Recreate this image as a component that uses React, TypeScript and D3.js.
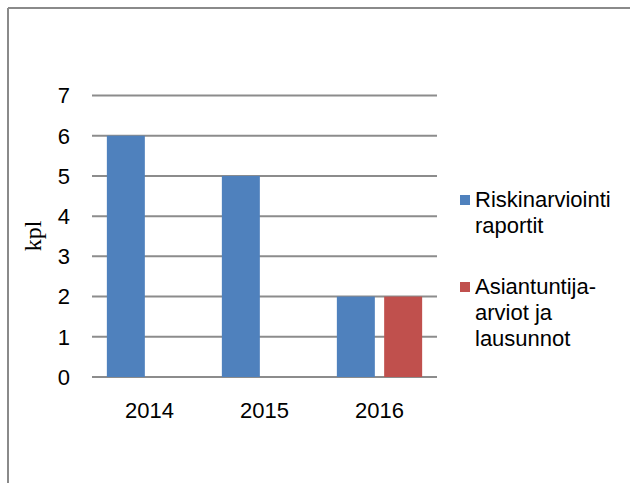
import React from "react";
import * as d3 from "d3";

const categories = ["2014", "2015", "2016"];
const seriesNames = ["Riskinarviointi raportit", "Asiantuntija-arviot ja lausunnot"];
const riskinarviointi = [6, 5, 2];
const asiantuntija = [0, 0, 2];
const yTicks = [0, 1, 2, 3, 4, 5, 6, 7];
const legendLines = [["Riskinarviointi", "raportit"], ["Asiantuntija-", "arviot ja", "lausunnot"]];
const colors = ["#4F81BD", "#C0504D"];
const yLabel = "kpl";

export default function App() {
  const W = 630, H = 483;
  const left = 92, right = 437, top = 95.5, bottom = 377;
  const x0 = d3.scaleBand<string>().domain(categories).range([left, right]).paddingInner(0).paddingOuter(0);
  const x1 = d3.scaleBand<string>().domain(seriesNames).range([0, x0.bandwidth()]).paddingInner(0.197).paddingOuter(0.314);
  const y = d3.scaleLinear().domain([0, 7]).range([bottom, top]);
  const values = [riskinarviointi, asiantuntija];
  const font = "'Liberation Sans', Arial, sans-serif";
  const fs = 22;
  return (
    <svg width={W} height={H} style={{ position: "absolute", left: 0, top: 0, background: "#fff" }}>
      <rect x={0} y={0} width={W} height={H} fill="#fff" />
      <line x1={8} y1={8} x2={W} y2={8} stroke="#8a8a8a" strokeWidth={2} />
      <line x1={8} y1={8} x2={8} y2={H} stroke="#8a8a8a" strokeWidth={2} />
      {yTicks.map((t) => (
        <g key={t}>
          <line x1={left} x2={right} y1={y(t)} y2={y(t)} stroke="#8c8c8c" strokeWidth={2} />
          <text x={70} y={y(t)} dy="0.36em" textAnchor="end" fontFamily={font} fontSize={fs} fill="#000">{t}</text>
        </g>
      ))}
      {values.map((vals, si) =>
        vals.map((v, ci) =>
          v > 0 ? (
            <rect
              key={`${si}-${ci}`}
              x={(x0(categories[ci]) as number) + (x1(seriesNames[si]) as number)}
              y={y(v)}
              width={x1.bandwidth()}
              height={y(0) - y(v)}
              fill={colors[si]}
            />
          ) : null
        )
      )}
      {categories.map((c) => (
        <text key={c} x={(x0(c) as number) + x0.bandwidth() / 2} y={418} textAnchor="middle" fontFamily={font} fontSize={fs} fill="#000">{c}</text>
      ))}
      <text transform={`translate(41,236) rotate(-90)`} textAnchor="middle" fontFamily="'Liberation Serif', 'Times New Roman', serif" fontSize={24} fill="#000">{yLabel}</text>
      {legendLines.map((lines, i) => {
        const by = i === 0 ? 207 : 294;
        return (
          <g key={i}>
            <rect x={460} y={by - 12} width={10} height={10} fill={colors[i]} />
            {lines.map((l, j) => (
              <text key={j} x={475} y={by + j * 26} fontFamily={font} fontSize={fs} fill="#000">{l}</text>
            ))}
          </g>
        );
      })}
    </svg>
  );
}
